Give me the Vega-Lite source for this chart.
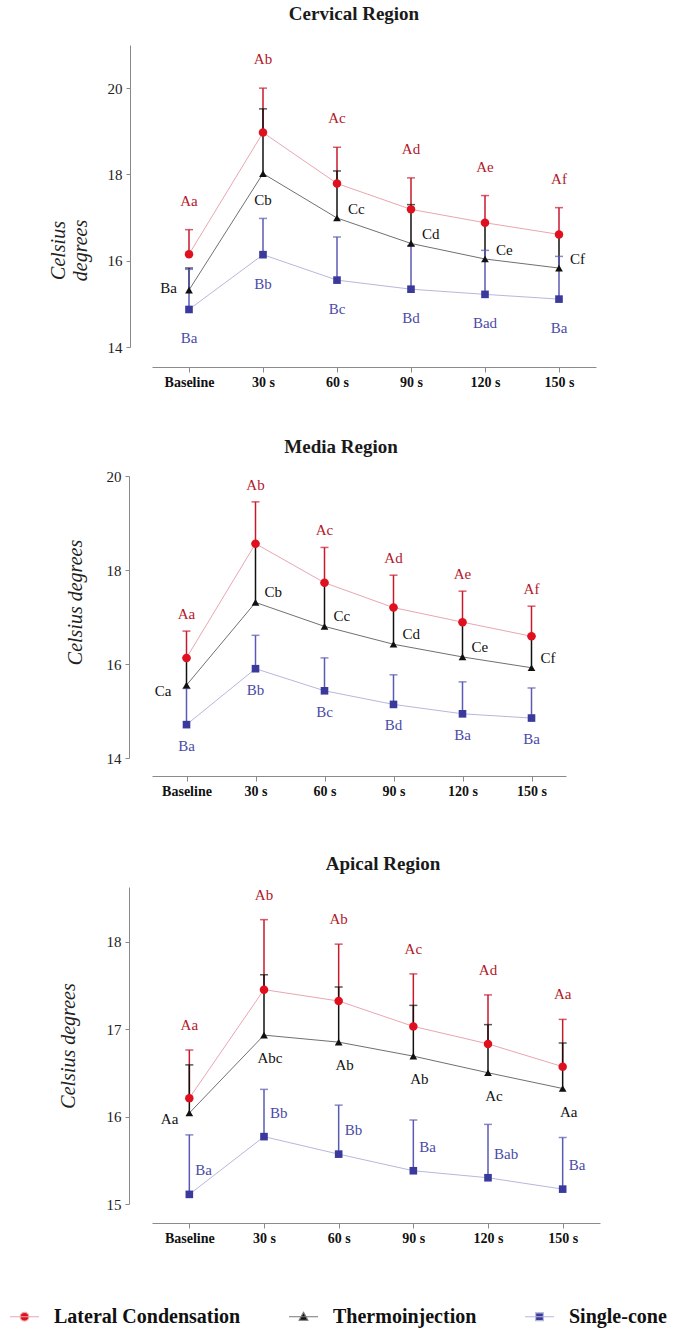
{
  "$schema": "https://vega.github.io/schema/vega-lite/v6.json",
  "background": "white",
  "autosize": {"type": "pad"},
  "padding": {"left": 9, "top": 5, "right": 5, "bottom": 5},
  "datasets": {
    "d": [
      {"region":"Cervical","time":"Baseline","sec":0,"method":"Lateral Condensation","mean":16.15,"upper":16.72,"letters":"Aa"},
      {"region":"Cervical","time":"30 s","sec":30,"method":"Lateral Condensation","mean":18.97,"upper":20.0,"letters":"Ab"},
      {"region":"Cervical","time":"60 s","sec":60,"method":"Lateral Condensation","mean":17.79,"upper":18.63,"letters":"Ac"},
      {"region":"Cervical","time":"90 s","sec":90,"method":"Lateral Condensation","mean":17.19,"upper":17.92,"letters":"Ad"},
      {"region":"Cervical","time":"120 s","sec":120,"method":"Lateral Condensation","mean":16.88,"upper":17.51,"letters":"Ae"},
      {"region":"Cervical","time":"150 s","sec":150,"method":"Lateral Condensation","mean":16.61,"upper":17.23,"letters":"Af"},
      {"region":"Cervical","time":"Baseline","sec":0,"method":"Thermoinjection","mean":15.32,"upper":15.83,"letters":"Ba"},
      {"region":"Cervical","time":"30 s","sec":30,"method":"Thermoinjection","mean":18.02,"upper":19.52,"letters":"Cb"},
      {"region":"Cervical","time":"60 s","sec":60,"method":"Thermoinjection","mean":16.99,"upper":18.08,"letters":"Cc"},
      {"region":"Cervical","time":"90 s","sec":90,"method":"Thermoinjection","mean":16.40,"upper":17.30,"letters":"Cd"},
      {"region":"Cervical","time":"120 s","sec":120,"method":"Thermoinjection","mean":16.04,"upper":16.88,"letters":"Ce"},
      {"region":"Cervical","time":"150 s","sec":150,"method":"Thermoinjection","mean":15.83,"upper":16.61,"letters":"Cf"},
      {"region":"Cervical","time":"Baseline","sec":0,"method":"Single-cone","mean":14.87,"upper":15.80,"letters":"Ba"},
      {"region":"Cervical","time":"30 s","sec":30,"method":"Single-cone","mean":16.14,"upper":16.98,"letters":"Bb"},
      {"region":"Cervical","time":"60 s","sec":60,"method":"Single-cone","mean":15.55,"upper":16.55,"letters":"Bc"},
      {"region":"Cervical","time":"90 s","sec":90,"method":"Single-cone","mean":15.34,"upper":16.35,"letters":"Bd"},
      {"region":"Cervical","time":"120 s","sec":120,"method":"Single-cone","mean":15.22,"upper":16.24,"letters":"Bad"},
      {"region":"Cervical","time":"150 s","sec":150,"method":"Single-cone","mean":15.11,"upper":16.10,"letters":"Ba"},
      {"region":"Media","time":"Baseline","sec":0,"method":"Lateral Condensation","mean":16.13,"upper":16.70,"letters":"Aa"},
      {"region":"Media","time":"30 s","sec":30,"method":"Lateral Condensation","mean":18.56,"upper":19.45,"letters":"Ab"},
      {"region":"Media","time":"60 s","sec":60,"method":"Lateral Condensation","mean":17.73,"upper":18.48,"letters":"Ac"},
      {"region":"Media","time":"90 s","sec":90,"method":"Lateral Condensation","mean":17.20,"upper":17.89,"letters":"Ad"},
      {"region":"Media","time":"120 s","sec":120,"method":"Lateral Condensation","mean":16.89,"upper":17.55,"letters":"Ae"},
      {"region":"Media","time":"150 s","sec":150,"method":"Lateral Condensation","mean":16.59,"upper":17.23,"letters":"Af"},
      {"region":"Media","time":"Baseline","sec":0,"method":"Thermoinjection","mean":15.55,"upper":16.13,"letters":"Ca"},
      {"region":"Media","time":"30 s","sec":30,"method":"Thermoinjection","mean":17.31,"upper":18.56,"letters":"Cb"},
      {"region":"Media","time":"60 s","sec":60,"method":"Thermoinjection","mean":16.80,"upper":17.73,"letters":"Cc"},
      {"region":"Media","time":"90 s","sec":90,"method":"Thermoinjection","mean":16.42,"upper":17.20,"letters":"Cd"},
      {"region":"Media","time":"120 s","sec":120,"method":"Thermoinjection","mean":16.15,"upper":16.89,"letters":"Ce"},
      {"region":"Media","time":"150 s","sec":150,"method":"Thermoinjection","mean":15.92,"upper":16.59,"letters":"Cf"},
      {"region":"Media","time":"Baseline","sec":0,"method":"Single-cone","mean":14.71,"upper":15.48,"letters":"Ba"},
      {"region":"Media","time":"30 s","sec":30,"method":"Single-cone","mean":15.90,"upper":16.61,"letters":"Bb"},
      {"region":"Media","time":"60 s","sec":60,"method":"Single-cone","mean":15.43,"upper":16.13,"letters":"Bc"},
      {"region":"Media","time":"90 s","sec":90,"method":"Single-cone","mean":15.14,"upper":15.77,"letters":"Bd"},
      {"region":"Media","time":"120 s","sec":120,"method":"Single-cone","mean":14.94,"upper":15.62,"letters":"Ba"},
      {"region":"Media","time":"150 s","sec":150,"method":"Single-cone","mean":14.85,"upper":15.49,"letters":"Ba"},
      {"region":"Apical","time":"Baseline","sec":0,"method":"Lateral Condensation","mean":16.21,"upper":16.76,"letters":"Aa"},
      {"region":"Apical","time":"30 s","sec":30,"method":"Lateral Condensation","mean":17.45,"upper":18.25,"letters":"Ab"},
      {"region":"Apical","time":"60 s","sec":60,"method":"Lateral Condensation","mean":17.32,"upper":17.97,"letters":"Ab"},
      {"region":"Apical","time":"90 s","sec":90,"method":"Lateral Condensation","mean":17.03,"upper":17.63,"letters":"Ac"},
      {"region":"Apical","time":"120 s","sec":120,"method":"Lateral Condensation","mean":16.83,"upper":17.39,"letters":"Ad"},
      {"region":"Apical","time":"150 s","sec":150,"method":"Lateral Condensation","mean":16.57,"upper":17.11,"letters":"Aa"},
      {"region":"Apical","time":"Baseline","sec":0,"method":"Thermoinjection","mean":16.04,"upper":16.59,"letters":"Aa"},
      {"region":"Apical","time":"30 s","sec":30,"method":"Thermoinjection","mean":16.93,"upper":17.62,"letters":"Abc"},
      {"region":"Apical","time":"60 s","sec":60,"method":"Thermoinjection","mean":16.85,"upper":17.48,"letters":"Ab"},
      {"region":"Apical","time":"90 s","sec":90,"method":"Thermoinjection","mean":16.69,"upper":17.27,"letters":"Ab"},
      {"region":"Apical","time":"120 s","sec":120,"method":"Thermoinjection","mean":16.50,"upper":17.05,"letters":"Ac"},
      {"region":"Apical","time":"150 s","sec":150,"method":"Thermoinjection","mean":16.32,"upper":16.84,"letters":"Aa"},
      {"region":"Apical","time":"Baseline","sec":0,"method":"Single-cone","mean":15.11,"upper":15.79,"letters":"Ba"},
      {"region":"Apical","time":"30 s","sec":30,"method":"Single-cone","mean":15.77,"upper":16.31,"letters":"Bb"},
      {"region":"Apical","time":"60 s","sec":60,"method":"Single-cone","mean":15.57,"upper":16.13,"letters":"Bb"},
      {"region":"Apical","time":"90 s","sec":90,"method":"Single-cone","mean":15.38,"upper":15.96,"letters":"Ba"},
      {"region":"Apical","time":"120 s","sec":120,"method":"Single-cone","mean":15.30,"upper":15.91,"letters":"Bab"},
      {"region":"Apical","time":"150 s","sec":150,"method":"Single-cone","mean":15.17,"upper":15.76,"letters":"Ba"}
    ]
  },
  "spacing": 129,
  "bounds": "flush",
  "vconcat": [
    {
      "width": 444, "height": 302,
      "title": {"text": "Cervical Region", "dx": -20, "offset": 21},
      "data": {"name": "d"},
      "transform": [{"filter": "datum.region === 'Cervical'"}],
      "encoding": {
        "x": {"field": "time", "type": "ordinal", "sort": ["Baseline","30 s","60 s","90 s","120 s","150 s"], "scale": {"type": "point", "padding": 0.5},
              "axis": {"title": null, "offset": 20, "labelAngle": 0, "labelFontWeight": "bold", "labelFontSize": 14, "labelColor": "#111", "tickSize": 5, "labelPadding": 3}},
        "y": {"field": "mean", "type": "quantitative", "scale": {"domain": [14, 21], "nice": false, "zero": false},
              "axis": {"title": ["Celsius", "degrees"], "offset": 22, "values": [14, 16, 18, 20], "titleY": 205, "titlePadding": 17, "titleLineHeight": 22}}
      },
      "layer": [
        {"mark": {"type": "line", "strokeWidth": 1},
         "encoding": {"detail": {"field": "method"}, "order": {"field": "sec"},
           "color": {"condition": [{"test": "datum.method === 'Lateral Condensation'", "value": "#e9a6ae"}, {"test": "datum.method === 'Thermoinjection'", "value": "#707070"}], "value": "#b7b7dc"}}},
        {"mark": {"type": "rule", "strokeWidth": 1.5},
         "encoding": {"y2": {"field": "upper"},
           "color": {"condition": [{"test": "datum.method === 'Lateral Condensation'", "value": "#c8192c"}, {"test": "datum.method === 'Thermoinjection'", "value": "#111111"}], "value": "#5a5ab2"}}},
        {"mark": {"type": "tick", "orient": "horizontal", "size": 8, "thickness": 1.5},
         "encoding": {"y": {"field": "upper", "type": "quantitative"},
           "color": {"condition": [{"test": "datum.method === 'Lateral Condensation'", "value": "#c8192c"}, {"test": "datum.method === 'Thermoinjection'", "value": "#111111"}], "value": "#5a5ab2"}}},
        {"mark": {"type": "point", "filled": true, "opacity": 1},
         "encoding": {
           "shape": {"condition": [{"test": "datum.method === 'Lateral Condensation'", "value": "circle"}, {"test": "datum.method === 'Thermoinjection'", "value": "triangle-up"}], "value": "square"},
           "size": {"condition": [{"test": "datum.method === 'Lateral Condensation'", "value": 72}, {"test": "datum.method === 'Thermoinjection'", "value": 60}], "value": 58},
           "color": {"condition": [{"test": "datum.method === 'Lateral Condensation'", "value": "#e0101e"}, {"test": "datum.method === 'Thermoinjection'", "value": "#111111"}], "value": "#3a3a9c"}}},
        {"mark": {"type": "point", "filled": true, "opacity": 0},
         "encoding": {
           "color": {"field": "method", "type": "nominal", "title": null,
             "scale": {"domain": ["Lateral Condensation", "Thermoinjection", "Single-cone"], "range": ["#e0101e", "#111111", "#3a3a9c"]},
             "legend": {"orient": "none", "legendX": -143, "legendY": 1256, "direction": "horizontal", "symbolOpacity": 1,
               "encode": {"symbols": {"update": {"stroke": {"signal": "datum.value === 'Lateral Condensation' ? '#e9a6ae' : datum.value === 'Thermoinjection' ? '#777777' : '#b7b7dc'"}, "strokeWidth": {"value": 1.2}, "opacity": {"value": 1}}}}}},
           "shape": {"field": "method", "type": "nominal", "title": null,
             "scale": {"domain": ["Lateral Condensation", "Thermoinjection", "Single-cone"],
               "range": ["M-1,0L1,0M0.3,0A0.3,0.3,0,1,1,-0.3,0A0.3,0.3,0,1,1,0.3,0Z", "M-1,0L1,0M0,-0.3L0.3,0.24L-0.3,0.24Z", "M-1,0L1,0M-0.27,-0.27L0.27,-0.27L0.27,0.27L-0.27,0.27Z"]},
             "legend": {"orient": "none", "legendX": -143, "legendY": 1256, "direction": "horizontal", "symbolOpacity": 1}}}},
        {"mark": {"type": "text", "font": "Liberation Serif", "fontSize": 15, "color": "#b2182b", "dy": -29, "baseline": "middle"},
         "transform": [{"filter": "datum.method === 'Lateral Condensation'"}],
         "encoding": {"y": {"field": "upper", "type": "quantitative"}, "text": {"field": "letters"}}},
        {"mark": {"type": "text", "font": "Liberation Serif", "fontSize": 15, "color": "#111111", "dx": -12, "dy": -2, "align": "right", "baseline": "middle"},
         "transform": [{"filter": "datum.method === 'Thermoinjection' && datum.time === 'Baseline'"}],
         "encoding": {"text": {"field": "letters"}}},
        {"mark": {"type": "text", "font": "Liberation Serif", "fontSize": 15, "color": "#111111", "dy": 26, "align": "center", "baseline": "middle"},
         "transform": [{"filter": "datum.method === 'Thermoinjection' && datum.time === '30 s'"}],
         "encoding": {"text": {"field": "letters"}}},
        {"mark": {"type": "text", "font": "Liberation Serif", "fontSize": 15, "color": "#111111", "dx": 11, "dy": -9, "align": "left", "baseline": "middle"},
         "transform": [{"filter": "datum.method === 'Thermoinjection' && datum.sec >= 60"}],
         "encoding": {"text": {"field": "letters"}}},
        {"mark": {"type": "text", "font": "Liberation Serif", "fontSize": 15, "color": "#4b4ba6", "dy": 29, "baseline": "middle"},
         "transform": [{"filter": "datum.method === 'Single-cone'"}],
         "encoding": {"text": {"field": "letters"}}}
      ]
    },
    {
      "width": 414, "height": 282,
      "title": {"text": "Media Region", "dx": -18, "offset": 12},
      "data": {"name": "d"},
      "transform": [{"filter": "datum.region === 'Media'"}],
      "encoding": {
        "x": {"field": "time", "type": "ordinal", "sort": ["Baseline","30 s","60 s","90 s","120 s","150 s"], "scale": {"type": "point", "padding": 0.5},
              "axis": {"title": null, "offset": 18, "labelAngle": 0, "labelFontWeight": "bold", "labelFontSize": 14, "labelColor": "#111", "tickSize": 5, "labelPadding": 3}},
        "y": {"field": "mean", "type": "quantitative", "scale": {"domain": [14, 20], "nice": false, "zero": false},
              "axis": {"title": "Celsius degrees", "offset": 23, "values": [14, 16, 18, 20], "titlePadding": 21, "titleY": 126}}
      },
      "layer": [
        {"mark": {"type": "line", "strokeWidth": 1},
         "encoding": {"detail": {"field": "method"}, "order": {"field": "sec"},
           "color": {"condition": [{"test": "datum.method === 'Lateral Condensation'", "value": "#e9a6ae"}, {"test": "datum.method === 'Thermoinjection'", "value": "#707070"}], "value": "#b7b7dc"}}},
        {"mark": {"type": "rule", "strokeWidth": 1.5},
         "encoding": {"y2": {"field": "upper"},
           "color": {"condition": [{"test": "datum.method === 'Lateral Condensation'", "value": "#c8192c"}, {"test": "datum.method === 'Thermoinjection'", "value": "#111111"}], "value": "#5a5ab2"}}},
        {"mark": {"type": "tick", "orient": "horizontal", "size": 8, "thickness": 1.5},
         "encoding": {"y": {"field": "upper", "type": "quantitative"},
           "color": {"condition": [{"test": "datum.method === 'Lateral Condensation'", "value": "#c8192c"}, {"test": "datum.method === 'Thermoinjection'", "value": "#111111"}], "value": "#5a5ab2"}}},
        {"mark": {"type": "point", "filled": true, "opacity": 1},
         "encoding": {
           "shape": {"condition": [{"test": "datum.method === 'Lateral Condensation'", "value": "circle"}, {"test": "datum.method === 'Thermoinjection'", "value": "triangle-up"}], "value": "square"},
           "size": {"condition": [{"test": "datum.method === 'Lateral Condensation'", "value": 72}, {"test": "datum.method === 'Thermoinjection'", "value": 60}], "value": 58},
           "color": {"condition": [{"test": "datum.method === 'Lateral Condensation'", "value": "#e0101e"}, {"test": "datum.method === 'Thermoinjection'", "value": "#111111"}], "value": "#3a3a9c"}}},
        {"mark": {"type": "text", "font": "Liberation Serif", "fontSize": 15, "color": "#b2182b", "dy": -17, "baseline": "middle"},
         "transform": [{"filter": "datum.method === 'Lateral Condensation'"}],
         "encoding": {"y": {"field": "upper", "type": "quantitative"}, "text": {"field": "letters"}}},
        {"mark": {"type": "text", "font": "Liberation Serif", "fontSize": 15, "color": "#111111", "dx": -15, "dy": 6, "align": "right", "baseline": "middle"},
         "transform": [{"filter": "datum.method === 'Thermoinjection' && datum.time === 'Baseline'"}],
         "encoding": {"text": {"field": "letters"}}},
        {"mark": {"type": "text", "font": "Liberation Serif", "fontSize": 15, "color": "#111111", "dx": 9, "dy": -10, "align": "left", "baseline": "middle"},
         "transform": [{"filter": "datum.method === 'Thermoinjection' && datum.sec >= 30"}],
         "encoding": {"text": {"field": "letters"}}},
        {"mark": {"type": "text", "font": "Liberation Serif", "fontSize": 15, "color": "#4b4ba6", "dy": 21, "baseline": "middle"},
         "transform": [{"filter": "datum.method === 'Single-cone'"}],
         "encoding": {"text": {"field": "letters"}}}
      ]
    },
    {
      "width": 448, "height": 317,
      "title": {"text": "Apical Region", "dx": 7, "offset": 13},
      "data": {"name": "d"},
      "transform": [{"filter": "datum.region === 'Apical'"}],
      "encoding": {
        "x": {"field": "time", "type": "ordinal", "sort": ["Baseline","30 s","60 s","90 s","120 s","150 s"], "scale": {"type": "point", "padding": 0.5},
              "axis": {"title": null, "offset": 19, "labelAngle": 0, "labelFontWeight": "bold", "labelFontSize": 14, "labelColor": "#111", "tickSize": 5, "labelPadding": 3}},
        "y": {"field": "mean", "type": "quantitative", "scale": {"domain": [15, 18.623], "nice": false, "zero": false},
              "axis": {"title": "Celsius degrees", "offset": 23, "values": [15, 16, 17, 18], "titlePadding": 28}}
      },
      "layer": [
        {"mark": {"type": "line", "strokeWidth": 1},
         "encoding": {"detail": {"field": "method"}, "order": {"field": "sec"},
           "color": {"condition": [{"test": "datum.method === 'Lateral Condensation'", "value": "#e9a6ae"}, {"test": "datum.method === 'Thermoinjection'", "value": "#707070"}], "value": "#b7b7dc"}}},
        {"mark": {"type": "rule", "strokeWidth": 1.5},
         "encoding": {"y2": {"field": "upper"},
           "color": {"condition": [{"test": "datum.method === 'Lateral Condensation'", "value": "#c8192c"}, {"test": "datum.method === 'Thermoinjection'", "value": "#111111"}], "value": "#5a5ab2"}}},
        {"mark": {"type": "tick", "orient": "horizontal", "size": 8, "thickness": 1.5},
         "encoding": {"y": {"field": "upper", "type": "quantitative"},
           "color": {"condition": [{"test": "datum.method === 'Lateral Condensation'", "value": "#c8192c"}, {"test": "datum.method === 'Thermoinjection'", "value": "#111111"}], "value": "#5a5ab2"}}},
        {"mark": {"type": "point", "filled": true, "opacity": 1},
         "encoding": {
           "shape": {"condition": [{"test": "datum.method === 'Lateral Condensation'", "value": "circle"}, {"test": "datum.method === 'Thermoinjection'", "value": "triangle-up"}], "value": "square"},
           "size": {"condition": [{"test": "datum.method === 'Lateral Condensation'", "value": 72}, {"test": "datum.method === 'Thermoinjection'", "value": 60}], "value": 58},
           "color": {"condition": [{"test": "datum.method === 'Lateral Condensation'", "value": "#e0101e"}, {"test": "datum.method === 'Thermoinjection'", "value": "#111111"}], "value": "#3a3a9c"}}},
        {"mark": {"type": "text", "font": "Liberation Serif", "fontSize": 15, "color": "#b2182b", "dy": -25, "baseline": "middle"},
         "transform": [{"filter": "datum.method === 'Lateral Condensation'"}],
         "encoding": {"y": {"field": "upper", "type": "quantitative"}, "text": {"field": "letters"}}},
        {"mark": {"type": "text", "font": "Liberation Serif", "fontSize": 15, "color": "#111111", "dx": -11, "dy": 6, "align": "right", "baseline": "middle"},
         "transform": [{"filter": "datum.method === 'Thermoinjection' && datum.time === 'Baseline'"}],
         "encoding": {"text": {"field": "letters"}}},
        {"mark": {"type": "text", "font": "Liberation Serif", "fontSize": 15, "color": "#111111", "dx": 6, "dy": 23, "align": "center", "baseline": "middle"},
         "transform": [{"filter": "datum.method === 'Thermoinjection' && datum.sec >= 30"}],
         "encoding": {"text": {"field": "letters"}}},
        {"mark": {"type": "text", "font": "Liberation Serif", "fontSize": 15, "color": "#4b4ba6", "dx": 6, "dy": -24, "align": "left", "baseline": "middle"},
         "transform": [{"filter": "datum.method === 'Single-cone'"}],
         "encoding": {"text": {"field": "letters"}}}
      ]
    }
  ],
  "config": {
    "view": {"stroke": null},
    "font": "Liberation Serif",
    "title": {"font": "Liberation Serif", "fontSize": 19, "fontWeight": "bold", "color": "#1a1a1a", "frame": "group", "anchor": "middle"},
    "axis": {"grid": false, "labelFont": "Liberation Serif", "titleFont": "Liberation Serif", "domainColor": "#8a8a8a", "tickColor": "#8a8a8a"},
    "axisY": {"tickSize": 4, "labelPadding": 4, "labelFontSize": 15, "labelColor": "#222", "titleFontSize": 20, "titleFontStyle": "italic", "titleFontWeight": "normal", "titleColor": "#222"},
    "legend": {"padding": 0, "labelFont": "Liberation Serif", "labelFontSize": 20, "labelFontWeight": "bold", "labelColor": "#111", "labelLimit": 400, "symbolSize": 841, "labelOffset": 14, "columnPadding": 45, "symbolStrokeWidth": 1.2}
  }
}
